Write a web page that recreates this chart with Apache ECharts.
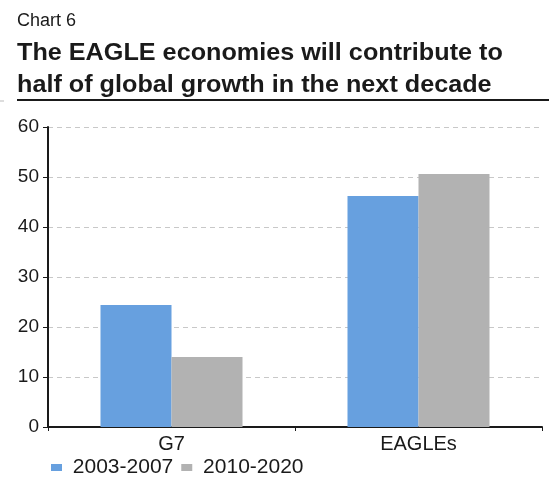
<!DOCTYPE html>
<html lang="en">
<head>
    <meta charset="UTF-8">
    <title>Chart 6</title>
    <script src="https://cdn.jsdelivr.net/npm/echarts@6/dist/echarts.min.js"></script>
    <style>
        html, body { margin: 0; padding: 0; background: #fff; }
    </style>
</head>
<body>
    <div id="main" style="width: 549px; height: 482px;"></div>
    <script>
        var categories = ['G7', 'EAGLEs'];
        var seriesNames = ['2003-2007', '2010-2020'];
        var values0307 = [24.4, 46.2];
        var values1020 = [14.0, 50.6];

        var font = 'Liberation Sans, Arial, sans-serif';
        var ink = '#1a1a1a';
        var myChart = echarts.init(document.getElementById('main'));

        myChart.setOption({
            animation: false,
            graphic: [
                {
                    type: 'text', left: 17, top: 12,
                    style: { text: 'Chart 6', font: '18px ' + font, fill: ink }
                },
                {
                    type: 'text', x: 17, y: 41, scaleX: 1.05,
                    style: { text: 'The EAGLE economies will contribute to', font: 'bold 24px ' + font, fill: ink }
                },
                {
                    type: 'text', x: 17, y: 73, scaleX: 1.05,
                    style: { text: 'half of global growth in the next decade', font: 'bold 24px ' + font, fill: ink }
                },
                {
                    type: 'line',
                    shape: { x1: 17, y1: 100, x2: 549, y2: 100 },
                    style: { stroke: ink, lineWidth: 2 }
                },
                {
                    type: 'line',
                    shape: { x1: 0, y1: 101, x2: 4, y2: 101 },
                    style: { stroke: '#bbb', lineWidth: 1 }
                }
            ],
            legend: {
                left: 51, top: 457, padding: 0,
                itemWidth: 11, itemHeight: 7, itemGap: 8,
                icon: 'rect',
                formatter: ' {name}',
                textStyle: { fontFamily: font, fontSize: 21, color: ink },
                data: seriesNames
            },
            grid: { left: 48, right: 7, top: 127, bottom: 55, containLabel: false },
            xAxis: {
                type: 'category',
                data: categories,
                axisLine: { lineStyle: { color: ink, width: 2 } },
                axisTick: { show: true, length: 4, lineStyle: { color: ink, width: 1 } },
                axisLabel: { fontFamily: font, fontSize: 20, color: ink, margin: 7 }
            },
            yAxis: {
                type: 'value',
                min: 0, max: 60, interval: 10,
                axisLine: { show: true, lineStyle: { color: ink, width: 2 } },
                axisTick: { show: true, length: 5, lineStyle: { color: ink, width: 1 } },
                axisLabel: { fontFamily: font, fontSize: 19, color: ink, margin: 9 },
                splitLine: { show: true, lineStyle: { color: '#c8c8c8', type: [5, 4], width: 1 } }
            },
            series: [
                {
                    name: seriesNames[0], type: 'bar', data: values0307,
                    barWidth: 71, barGap: '0%',
                    itemStyle: { color: '#67a0df' }
                },
                {
                    name: seriesNames[1], type: 'bar', data: values1020,
                    barWidth: 71, barGap: '0%',
                    itemStyle: { color: '#b2b2b2' }
                }
            ]
        });
    </script>
</body>
</html>
